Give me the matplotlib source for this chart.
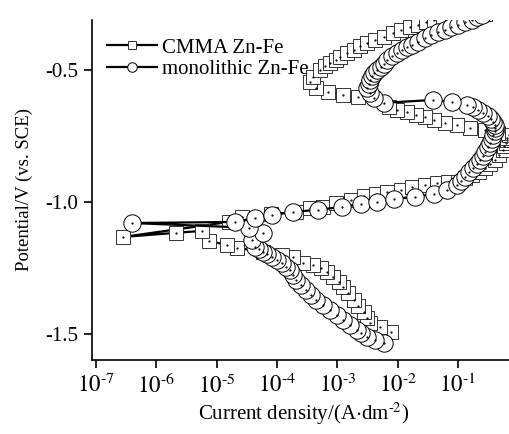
import numpy as np
import matplotlib
matplotlib.use("Agg")
import matplotlib.pyplot as plt
from matplotlib.ticker import NullLocator, FuncFormatter

plt.rcParams['font.family'] = ['Liberation Serif', 'DejaVu Serif']
plt.rcParams['mathtext.fontset'] = 'stix'

# ---------------------------------------------------------------------------
# data: log10(current density / A dm^-2), potential / V
# ---------------------------------------------------------------------------
cmma_logi = [-2.11, -2.30, -2.45, -2.50, -2.56, -2.65, -2.73, -2.82, -2.90, -2.98,
             -3.07, -3.17, -3.27, -3.40, -3.57, -3.74, -3.91, -4.24, -4.66, -4.83,
             -5.13, -5.25, -5.67, -6.56, -4.80, -4.58, -4.10, -3.69, -3.45, -3.24,
             -3.02, -2.78, -2.56, -2.36, -2.18, -1.94, -1.76, -1.55, -1.35, -1.17,
             -1.00, -0.88, -0.76, -0.65, -0.55, -0.46, -0.38, -0.32, -0.26, -0.23,
             -0.21, -0.19, -0.18, -0.16, -0.33, -0.55, -0.80, -1.02, -1.22, -1.39,
             -1.55, -1.69, -1.84, -2.01, -2.14, -2.65, -2.90, -3.15, -3.35, -3.45,
             -3.40, -3.29, -3.20, -3.12, -3.03, -2.95, -2.84, -2.73, -2.62, -2.51,
             -2.37, -2.23, -2.08, -1.94, -1.80, -1.67, -1.53, -1.39, -1.24, -1.10,
             -0.96, -0.83, -0.69, -0.55]
cmma_E = [-1.492, -1.475, -1.458, -1.438, -1.417, -1.394, -1.371, -1.346, -1.322, -1.303,
          -1.284, -1.267, -1.250, -1.239, -1.231, -1.208, -1.201, -1.189, -1.174, -1.163,
          -1.148, -1.110, -1.117, -1.133, -1.076, -1.057, -1.047, -1.038, -1.023, -1.019,
          -1.004, -0.992, -0.977, -0.970, -0.962, -0.955, -0.943, -0.935, -0.928, -0.926,
          -0.924, -0.911, -0.898, -0.885, -0.871, -0.856, -0.841, -0.822, -0.803, -0.790,
          -0.777, -0.767, -0.758, -0.746, -0.739, -0.727, -0.720, -0.708, -0.701, -0.689,
          -0.678, -0.670, -0.659, -0.652, -0.640, -0.602, -0.595, -0.583, -0.568, -0.545,
          -0.527, -0.500, -0.486, -0.473, -0.462, -0.451, -0.437, -0.424, -0.411, -0.398,
          -0.386, -0.375, -0.361, -0.348, -0.339, -0.330, -0.320, -0.311, -0.305, -0.299,
          -0.295, -0.292, -0.290, -0.288]

mono_logi = [-2.23, -2.37, -2.51, -2.60, -2.68, -2.79, -2.90, -3.01, -3.12, -3.23,
             -3.35, -3.44, -3.52, -3.61, -3.69, -3.74, -3.79, -3.85, -3.91, -4.00,
             -4.08, -4.16, -4.24, -4.30, -4.36, -4.41, -4.24, -4.46, -6.41, -4.70,
             -4.36, -4.08, -3.74, -3.32, -2.93, -2.61, -2.34, -2.06, -1.72, -1.39,
             -1.18, -1.02, -0.95, -0.88, -0.81, -0.75, -0.69, -0.63, -0.59, -0.55,
             -0.50, -0.46, -0.43, -0.41, -0.39, -0.38, -0.39, -0.41, -0.45, -0.50,
             -0.58, -0.66, -0.75, -0.85, -1.10, -1.42, -2.23, -2.39, -2.46, -2.51,
             -2.48, -2.45, -2.42, -2.39, -2.34, -2.28, -2.23, -2.18, -2.10, -2.01,
             -1.93, -1.84, -1.76, -1.67, -1.55, -1.44, -1.33, -1.22, -1.11, -1.00,
             -0.88, -0.76, -0.68, -0.60]
mono_E = [-1.534, -1.523, -1.511, -1.498, -1.485, -1.466, -1.447, -1.428, -1.409, -1.390,
          -1.371, -1.352, -1.333, -1.314, -1.295, -1.277, -1.258, -1.245, -1.231, -1.220,
          -1.208, -1.198, -1.189, -1.180, -1.170, -1.144, -1.117, -1.098, -1.080, -1.076,
          -1.061, -1.049, -1.038, -1.030, -1.019, -1.008, -1.000, -0.989, -0.981, -0.970,
          -0.955, -0.936, -0.921, -0.905, -0.888, -0.871, -0.856, -0.841, -0.826, -0.811,
          -0.794, -0.777, -0.762, -0.746, -0.733, -0.720, -0.708, -0.697, -0.685, -0.674,
          -0.663, -0.652, -0.642, -0.633, -0.621, -0.614, -0.625, -0.606, -0.587, -0.568,
          -0.553, -0.538, -0.525, -0.511, -0.500, -0.489, -0.476, -0.462, -0.449, -0.436,
          -0.424, -0.413, -0.404, -0.394, -0.381, -0.367, -0.357, -0.348, -0.339, -0.330,
          -0.320, -0.311, -0.301, -0.292]

labels = ["CMMA Zn-Fe", "monolithic Zn-Fe"]
x_ticks = [1e-7, 1e-6, 1e-5, 1e-4, 1e-3, 1e-2, 1e-1]
y_ticks = [-1.5, -1.0, -0.5]

# ---------------------------------------------------------------------------
fig = plt.figure(figsize=(5.09, 4.34), dpi=100)
ax = fig.add_axes([0.181, 0.171, 0.83, 0.783])

cmma_i = 10.0 ** np.array(cmma_logi)
mono_i = 10.0 ** np.array(mono_logi)

ax.plot(cmma_i, cmma_E, '-', color='black', lw=1.6, marker='s', ms=9.5,
        mfc='white', mec='#333333', mew=0.7, label=labels[0], zorder=3)
ax.plot(cmma_i, cmma_E, ls='none', marker='.', ms=1.2, color='black', zorder=3)
ax.plot(mono_i, mono_E, '-', color='black', lw=1.6, marker='o', ms=12.5,
        mfc='white', mec='black', mew=0.7, label=labels[1], zorder=4)
ax.plot(mono_i, mono_E, ls='none', marker='.', ms=1.2, color='black', zorder=4)

ax.set_xscale('log')
ax.set_xlim(10 ** -7.067, 10 ** -0.06)
ax.set_ylim(-1.598, -0.311)
ax.set_xticks(x_ticks)
ax.xaxis.set_minor_locator(NullLocator())
ax.xaxis.set_major_formatter(FuncFormatter(
    lambda v, pos: r'$10^{\text{-}%d}$' % round(-np.log10(v))))
ax.set_yticks(y_ticks)
ax.set_yticklabels(['%.1f' % v for v in y_ticks])

for s in ['top', 'right']:
    ax.spines[s].set_visible(False)
for s in ['left', 'bottom']:
    ax.spines[s].set_linewidth(1.2)
ax.tick_params(direction='out', length=6, width=1.2, labelsize=15, pad=4)
ax.tick_params(axis='x', labelsize=16.5, pad=4)

ax.set_xlabel(r'Current density/(A$\cdot$dm$^{\text{-}2}$)', fontsize=15, labelpad=2)
ax.set_ylabel('Potential/V (vs. SCE)', fontsize=13.5, labelpad=9)

ax.legend(loc='upper left', frameon=False, fontsize=15, markerscale=0.55,
          handlelength=2.4, handletextpad=0.25, labelspacing=0.1,
          borderaxespad=0.3, bbox_to_anchor=(0.0, 0.99))

fig.savefig('out.png', dpi=100)
